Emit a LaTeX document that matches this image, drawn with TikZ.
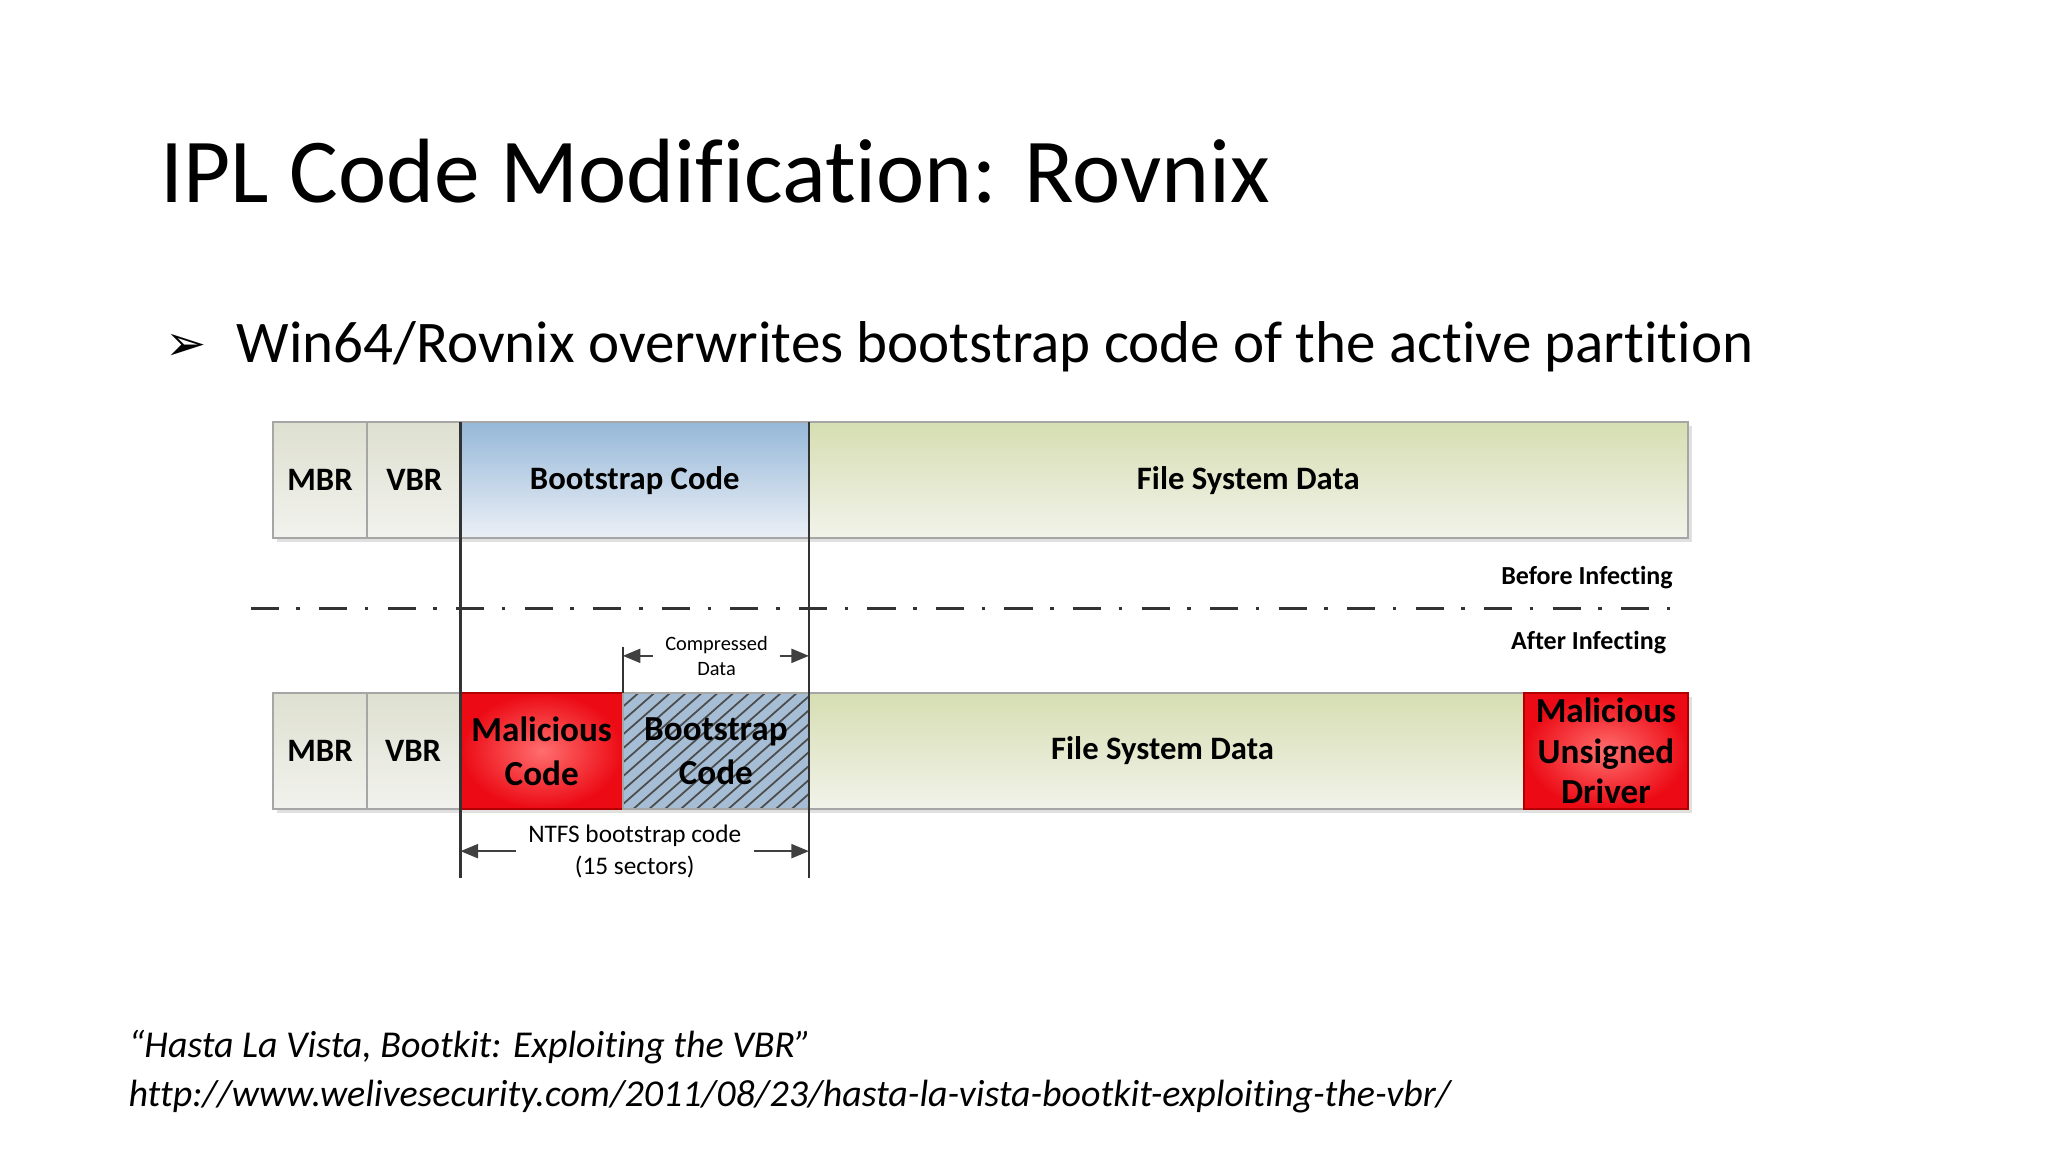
\documentclass[tikz,border=0pt]{standalone}
\usepackage{fontspec}
\setmainfont{Carlito}[Ligatures={NoCommon}]
\newfontfamily\dejavu{DejaVu Sans}
\usetikzlibrary{arrows.meta}
\definecolor{fsT}{RGB}{214,222,178}
\definecolor{fsB}{RGB}{242,243,234}
\definecolor{grT}{RGB}{222,224,208}
\definecolor{grB}{RGB}{242,242,238}
\definecolor{blT}{RGB}{150,184,216}
\definecolor{blB}{RGB}{236,240,246}
\definecolor{hb}{RGB}{165,190,214}
\tikzset{
 seg/.style={draw=black!35,line width=0.6pt,top color=fsT,bottom color=fsB},
 grseg/.style={seg,top color=grT,bottom color=grB},
 blseg/.style={seg,top color=blT,bottom color=blB},
 redseg/.style={draw=red!70!black,line width=0.6pt,inner color={rgb,255:red,255;green,110;blue,110},outer color={rgb,255:red,236;green,10;blue,20}},
 lbl/.style={font=\fontsize{9.3}{11.5}\selectfont\bfseries,align=center},
 sm/.style={font=\fontsize{5.8}{7.2}\selectfont,align=center},
 dim/.style={-{Triangle[length=5pt,width=4pt]},line width=0.6pt,black!75},
}
\begin{document}
\begin{tikzpicture}[x=0.013196cm,y=-0.013196cm]
\useasboundingbox[fill=white] (0,0) rectangle (1552,873);
\node[anchor=west,font=\fontsize{26}{30}\selectfont] (title) at (112,130) {IPL Code Modification: Rovnix};
\node[anchor=west,font=\fontsize{14}{14}\selectfont\dejavu] (bul) at (116,263) {➢};
\node[anchor=west,font=\fontsize{16.8}{18}\selectfont] (btxt) at (170,263) {Win64/Rovnix overwrites bootstrap code of the active partition};
% shadows
\fill[black!12] (210,323) rectangle (1282,411);
\fill[black!12] (210,528) rectangle (1282,616);
% top row
\draw[grseg] (207,320) rectangle (278,408); \node[lbl] (m1) at (242.5,364) {MBR};
\draw[grseg] (278,320) rectangle (349,408); \node[lbl] (v1) at (314,364) {VBR};
\draw[blseg] (349,320) rectangle (613,408); \node[lbl] (b1) at (481,364) {Bootstrap Code};
\draw[seg] (613,320) rectangle (1279,408); \node[lbl] (f1) at (946,364) {File System Data};
% bottom row
\draw[grseg] (207,525) rectangle (278,613); \node[lbl] (m2) at (242.5,569) {MBR};
\draw[grseg] (278,525) rectangle (349,613); \node[lbl] (v2) at (313,569) {VBR};
\draw[redseg] (349,525) rectangle (472,613); \node[lbl,font=\fontsize{10}{12.5}\selectfont\bfseries] (mc) at (410.5,569) {Malicious\\Code};
\fill[hb] (472,525) rectangle (613,613);
\begin{scope}
\clip (472,525) rectangle (613,613);
\foreach \i in {0,12,...,240} {\draw[black!70,line width=0.5pt] (472+\i-100,613) -- (472+\i,525);}
\end{scope}
\draw[black!35,line width=0.6pt] (472,525) rectangle (613,613);
\node[lbl,font=\fontsize{10}{12.5}\selectfont\bfseries] (b2) at (542.5,569) {Bootstrap\\Code};
\draw[seg] (613,525) rectangle (1155,613); \node[lbl] (f2) at (881,569) {File System Data};
\draw[redseg] (1155,525) rectangle (1279,613); \node[lbl,font=\fontsize{10}{11.5}\selectfont\bfseries] (md) at (1217,569) {Malicious\\Unsigned\\Driver};
% verticals
\draw[black!80,line width=0.7pt] (349,320) -- (349,665);
\draw[black!80,line width=0.7pt] (613,320) -- (613,665);
\draw[black!80,line width=0.7pt] (472,490) -- (472,525);
% dash dot
\draw[black!80,line width=1pt,dash pattern=on 8pt off 5pt on 1pt off 5.5pt] (190,461) -- (1280,461);
\node[anchor=east,font=\fontsize{7.4}{8}\selectfont\bfseries] (bi) at (1277,438) {Before Infecting};
\node[anchor=east,font=\fontsize{7.4}{8}\selectfont\bfseries] (ai) at (1272,487) {After Infecting};
% compressed data
\node[sm] (cd) at (543,497) {Compressed\\Data};
\coordinate (c1) at (472,497); \coordinate (c2) at (613,497);
\draw[dim] (cd.west) -- (c1);
\draw[dim] (cd.east) -- (c2);
% ntfs
\node[font=\fontsize{7.2}{9.2}\selectfont,align=center] (nt) at (481,645) {NTFS bootstrap code\\(15 sectors)};
\coordinate (n1) at (349,645); \coordinate (n2) at (613,645);
\draw[dim] (nt.west) -- (n1);
\draw[dim] (nt.east) -- (n2);
% citation
\node[anchor=west,font=\fontsize{10.8}{13}\selectfont\itshape,align=left] (cit) at (88,812) {“Hasta La Vista, Bootkit: Exploiting the VBR”\\[1pt]http://www.welivesecurity.com/2011/08/23/hasta-la-vista-bootkit-exploiting-the-vbr/};
\end{tikzpicture}
\end{document}
